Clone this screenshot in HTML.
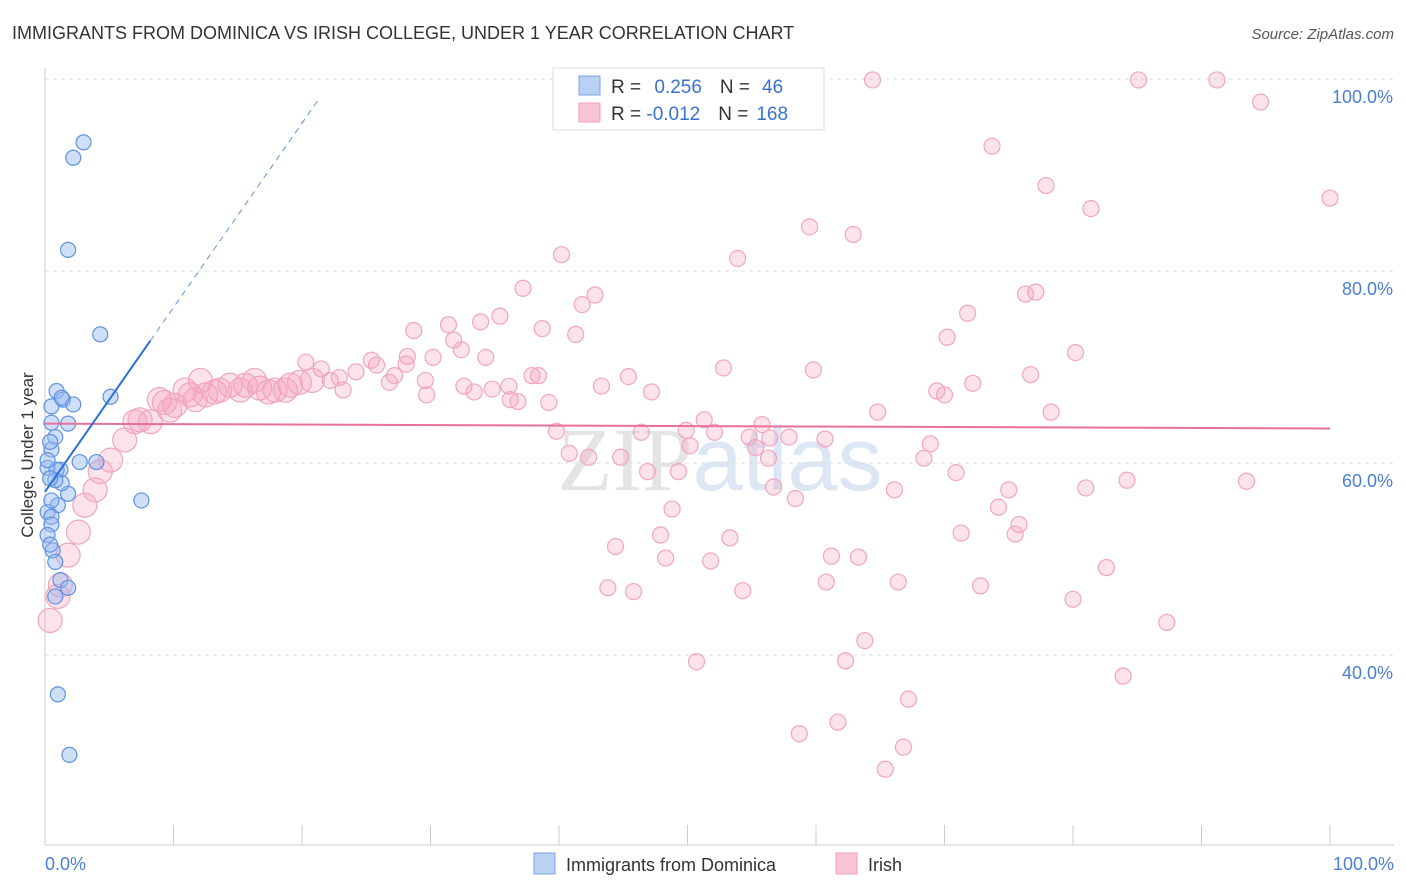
<!DOCTYPE html>
<html><head><meta charset="utf-8"><style>
body{margin:0;background:#fff;font-family:"Liberation Sans",sans-serif;}
#wrap{position:relative;width:1406px;height:892px;overflow:hidden;}
</style></head><body>
<div id="wrap">
<svg id="chart" width="1406" height="892">
<text x="12" y="39" font-size="18" fill="#333">IMMIGRANTS FROM DOMINICA VS IRISH COLLEGE, UNDER 1 YEAR CORRELATION CHART</text>
<text x="1394" y="39" font-size="15" fill="#555" font-style="italic" text-anchor="end">Source: ZipAtlas.com</text>
<text x="720" y="490" font-size="90" fill="#e4e4e4" text-anchor="middle" font-family="Liberation Serif">ZIP<tspan fill="#dce6f4" font-family="Liberation Sans">atlas</tspan></text>
<g id="grid"></g><g id="marks"></g>
<text x="33" y="455" font-size="17" fill="#333" text-anchor="middle" transform="rotate(-90 33 455)">College, Under 1 year</text>
<text x="45" y="870" font-size="18" fill="#4a7fd4">0.0%</text>
<text x="1394" y="870" font-size="18" fill="#4a7fd4" text-anchor="end">100.0%</text>
<g>
<rect x="553" y="68" width="271" height="62" fill="#fff" stroke="#ddd"/>
<rect x="579" y="76" width="21" height="19" fill="#b9d1f5" stroke="#7ba4e4"/>
<rect x="579" y="103" width="21" height="19" fill="#f9c4d4" stroke="#eea0bb"/>
<text x="611" y="93" font-size="19" fill="#333">R = <tspan fill="#3a72d0" dx="8">0.256</tspan><tspan dx="18" fill="#333">N =</tspan><tspan dx="12" fill="#3a72d0">46</tspan></text>
<text x="611" y="120" font-size="19" fill="#333">R = <tspan fill="#3a72d0">-0.012</tspan><tspan dx="18" fill="#333">N =</tspan><tspan dx="8" fill="#3a72d0">168</tspan></text>
</g>
<g>
<rect x="534" y="853" width="21" height="21" fill="#b9d1f5" stroke="#7ba4e4"/>
<text x="566" y="871" font-size="18" fill="#333">Immigrants from Dominica</text>
<rect x="836" y="853" width="21" height="21" fill="#f9c4d4" stroke="#eea0bb"/>
<text x="868" y="871" font-size="18" fill="#333">Irish</text>
</g>
</svg></div>
<script>
const yTicks=[40,60,80,100];
const yTickLabels=["40.0%","60.0%","80.0%","100.0%"];
const xTicks=[0,10,20,30,40,50,60,70,80,90,100];
const pinkX=[64.4,85.1,91.2,94.6,73.7,100,77.9,81.4,59.5,62.9,40.2,53.9,37.2,42.8,41.8,76.3,77.1,71.8,28.7,31.4,33.9,35.4,38.7,41.3,70.2,80.2,31.8,32.4,34.3,28.2,30.2,25.4,20.3,25.8,21.5,28.1,27.2,22.2,24.2,26.8,23.2,22.9,29.6,32.6,29.7,33.4,34.8,36.1,36.2,36.8,37.9,38.4,39.2,43.3,45.4,47.2,52.8,59.8,72.2,76.7,69.4,70.0,64.8,78.3,51.3,55.8,39.8,46.4,49.9,52.1,54.8,56.4,57.9,60.7,68.9,50.2,55.3,40.8,42.3,44.8,56.3,68.4,46.9,49.3,70.9,56.7,58.4,66.1,75.0,81.0,84.2,93.5,48.8,74.2,75.8,75.5,71.3,47.9,53.3,44.4,61.2,63.3,48.3,51.8,82.6,60.8,66.4,72.8,43.8,45.8,54.3,80.0,87.3,63.8,50.7,62.3,83.9,67.2,61.7,58.7,66.8,65.4];
const pinkY=[99.9,99.9,99.9,97.6,93.0,87.6,88.9,86.5,84.6,83.8,81.7,81.3,78.2,77.5,76.5,77.6,77.8,75.6,73.8,74.4,74.7,75.3,74.0,73.4,73.1,71.5,72.8,71.8,71.0,71.1,71.0,70.7,70.5,70.2,69.8,70.3,69.1,68.6,69.5,68.4,67.6,68.9,68.6,68.0,67.1,67.4,67.7,68.0,66.6,66.4,69.1,69.1,66.3,68.0,69.0,67.4,69.9,69.7,68.3,69.2,67.5,67.1,65.3,65.3,64.5,64.0,63.3,63.2,63.4,63.2,62.7,62.6,62.7,62.5,62.0,61.8,61.6,61.0,60.6,60.6,60.5,60.5,59.1,59.1,59.0,57.5,56.3,57.2,57.2,57.4,58.2,58.1,55.2,55.4,53.6,52.6,52.7,52.5,52.2,51.3,50.3,50.2,50.1,49.8,49.1,47.6,47.6,47.2,47.0,46.6,46.7,45.8,43.4,41.5,39.3,39.4,37.8,35.4,33.0,31.8,30.4,28.1];
const pinkBigX=[8.9,10.1,10.9,12.1,13.2,14.4,15.6,16.7,17.9,19.1,7.4,8.2,6.2,5.1,4.3,3.9,3.1,2.6,1.8,1.2,0.4,1.0,9.7,11.3,12.5,13.6,15.2,16.3,17.4,18.7,19.8,20.8,11.7,9.3,7.0];
const pinkBigY=[66.6,66.0,67.6,68.6,67.4,68.1,68.1,67.8,67.6,68.1,64.5,64.3,62.4,60.3,59.1,57.2,55.6,52.8,50.4,47.3,43.6,46.1,65.5,67.1,67.1,67.6,67.6,68.6,67.4,67.6,68.4,68.6,66.6,66.3,64.3];
const blueX=[3.0,2.2,1.8,4.3,0.9,0.5,1.4,2.2,1.8,5.1,0.5,0.8,0.5,1.2,0.2,0.9,2.7,4.0,1.8,1.3,0.8,0.4,1.0,0.2,0.5,0.5,0.2,0.6,0.8,1.2,1.8,0.8,7.5,1.0,1.9,0.4,0.2,1.3,0.5,0.4];
const blueY=[93.4,91.8,82.2,73.4,67.5,65.9,66.6,66.1,64.1,66.9,64.2,62.7,61.4,59.3,59.5,59.3,60.1,60.1,56.8,57.9,58.2,58.4,55.6,54.9,54.4,53.6,52.5,50.9,49.7,47.8,47.0,46.1,56.1,35.9,29.6,62.2,60.3,66.8,56.1,51.5];
const pinkTrend=[64.1,-0.005];
const blueTrend=[57.0,1.92];
const X0=45,X1=1330,Y100=79,PXPER=9.6;
const sx=v=>X0+(X1-X0)*v/100, sy=v=>Y100+(100-v)*PXPER;
const NS="http://www.w3.org/2000/svg";
function mk(t,a,p){const e=document.createElementNS(NS,t);for(const k in a)e.setAttribute(k,a[k]);p.appendChild(e);return e;}
const grid=document.getElementById('grid'),marks=document.getElementById('marks');
yTicks.forEach((t,i)=>{
 const l=mk('line',{x1:X0,x2:1394,y1:sy(t),y2:sy(t),stroke:'#ddd','stroke-dasharray':'4,4'},grid);
 
 
 const tx=mk('text',{x:1393,y:sy(t)+24,'font-size':18,fill:'#4a7fd4','text-anchor':'end'},grid);
 tx.textContent=yTickLabels[i];
 
 
});
const ax=mk('line',{x1:X0,x2:1394,y1:845,y2:845,stroke:'#ccc'},grid);


const ay=mk('line',{x1:X0,x2:X0,y1:68,y2:845,stroke:'#ccc'},grid);


xTicks.forEach(t=>{
 const l=mk('line',{x1:sx(t),x2:sx(t),y1:825,y2:845,stroke:'#ccc'},grid);
 
 
});
pinkX.forEach((x,i)=>{
 const c=mk('circle',{cx:sx(x),cy:sy(pinkY[i]),r:8,fill:'rgba(244,160,190,0.3)',stroke:'#f0a6c0','stroke-width':1.2},marks);
 
 
});
pinkBigX.forEach((x,i)=>{
 const c=mk('circle',{cx:sx(x),cy:sy(pinkBigY[i]),r:12,fill:'rgba(244,160,190,0.3)',stroke:'#f0a6c0','stroke-width':1.2},marks);
 
 
});
blueX.forEach((x,i)=>{
 const c=mk('circle',{cx:sx(x),cy:sy(blueY[i]),r:7.5,fill:'rgba(150,185,240,0.45)',stroke:'#5f92e0','stroke-width':1.2},marks);
 
 
});
const pl=mk('line',{x1:sx(0),y1:sy(pinkTrend[0]),x2:sx(100),y2:sy(pinkTrend[0]+pinkTrend[1]*100),stroke:'#e8709a','stroke-width':2},marks);


const bl=mk('line',{x1:sx(0),y1:sy(blueTrend[0]),x2:sx(8.2),y2:sy(blueTrend[0]+blueTrend[1]*8.2),stroke:'#2a6fd6','stroke-width':2},marks);


const bd=mk('line',{x1:sx(8.2),y1:sy(blueTrend[0]+blueTrend[1]*8.2),x2:sx(21.3),y2:sy(blueTrend[0]+blueTrend[1]*21.3),stroke:'#5f92e0','stroke-width':1,'stroke-dasharray':'6,5'},marks);


</script>
</body></html>
